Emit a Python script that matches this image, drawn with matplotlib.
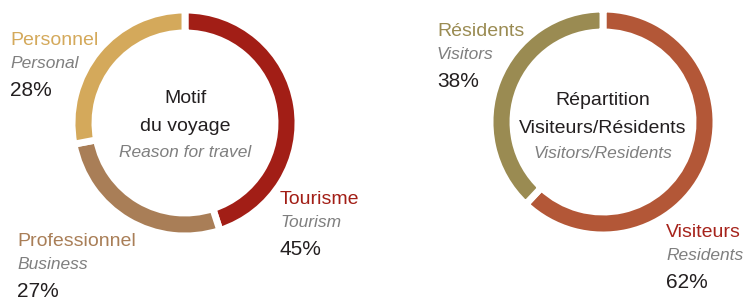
import matplotlib
matplotlib.use('Agg')
import matplotlib.pyplot as plt

plt.rcParams['font.family'] = ['Liberation Sans', 'DejaVu Sans']

# donut 1 : motif du voyage
motif_fr = ['Tourisme', 'Professionnel', 'Personnel']
motif_en = ['Tourism', 'Business', 'Personal']
motif_pct = [45, 27, 28]
motif_colors = ['#a21e16', '#a97e57', '#d4a95b']

# donut 2 : visiteurs / residents
rep_fr = ['Visiteurs', 'Résidents']
rep_en = ['Residents', 'Visitors']
rep_pct = [62, 38]
rep_colors = ['#b35737', '#9a8b52']
rep_label_colors = ['#a6231b', '#9a8b52']

W, H = 745, 297
fig = plt.figure(figsize=(W / 100, H / 100), dpi=100)
ax = fig.add_axes([0, 0, 1, 1])

GREY = '#7f7f7f'
DARK = '#231f20'
R = 113
RING = 23
FS = 14
FS_IT = 12.5
FS_PCT = 15


def donut(values, colors, cx, cy):
    ax.pie(values, colors=colors, center=(cx, H - cy), radius=R, startangle=90,
           counterclock=False, frame=True,
           wedgeprops=dict(width=RING, edgecolor='white', linewidth=5))


def label(x, y, fr, en, pct, color):
    ax.text(x, H - y, fr, color=color, fontsize=FS, va='baseline', ha='left')
    ax.text(x, H - y - 22.7, en, color=GREY, fontsize=FS_IT, style='italic', va='baseline', ha='left')
    ax.text(x, H - y - 51, f'{pct}%', color=DARK, fontsize=FS_PCT, va='baseline', ha='left')


donut(motif_pct, motif_colors, 185, 123)
donut(rep_pct, rep_colors, 603, 122)

# left donut labels
label(280, 204, motif_fr[0], motif_en[0], motif_pct[0], motif_colors[0])
label(17, 246, motif_fr[1], motif_en[1], motif_pct[1], motif_colors[1])
label(10, 45, motif_fr[2], motif_en[2], motif_pct[2], motif_colors[2])

# right donut labels
label(666, 237, rep_fr[0], rep_en[0], rep_pct[0], rep_label_colors[0])
label(437, 36, rep_fr[1], rep_en[1], rep_pct[1], rep_label_colors[1])

# centre titles
ax.text(185, H - 103, 'Motif', color=DARK, fontsize=FS, ha='center', va='baseline')
ax.text(185, H - 131, 'du voyage', color=DARK, fontsize=FS, ha='center', va='baseline')
ax.text(185, H - 157, 'Reason for travel', color=GREY, fontsize=FS_IT, style='italic',
        ha='center', va='baseline')

ax.text(603, H - 105, 'Répartition', color=DARK, fontsize=FS, ha='center', va='baseline')
ax.text(603, H - 133, 'Visiteurs/Résidents', color=DARK, fontsize=FS, ha='center', va='baseline')
ax.text(603, H - 158, 'Visitors/Residents', color=GREY, fontsize=FS_IT, style='italic',
        ha='center', va='baseline')

ax.set_xlim(0, W)
ax.set_ylim(0, H)
ax.set_aspect('auto')
ax.set_axis_off()

fig.savefig('out.png', dpi=100, facecolor='white')
